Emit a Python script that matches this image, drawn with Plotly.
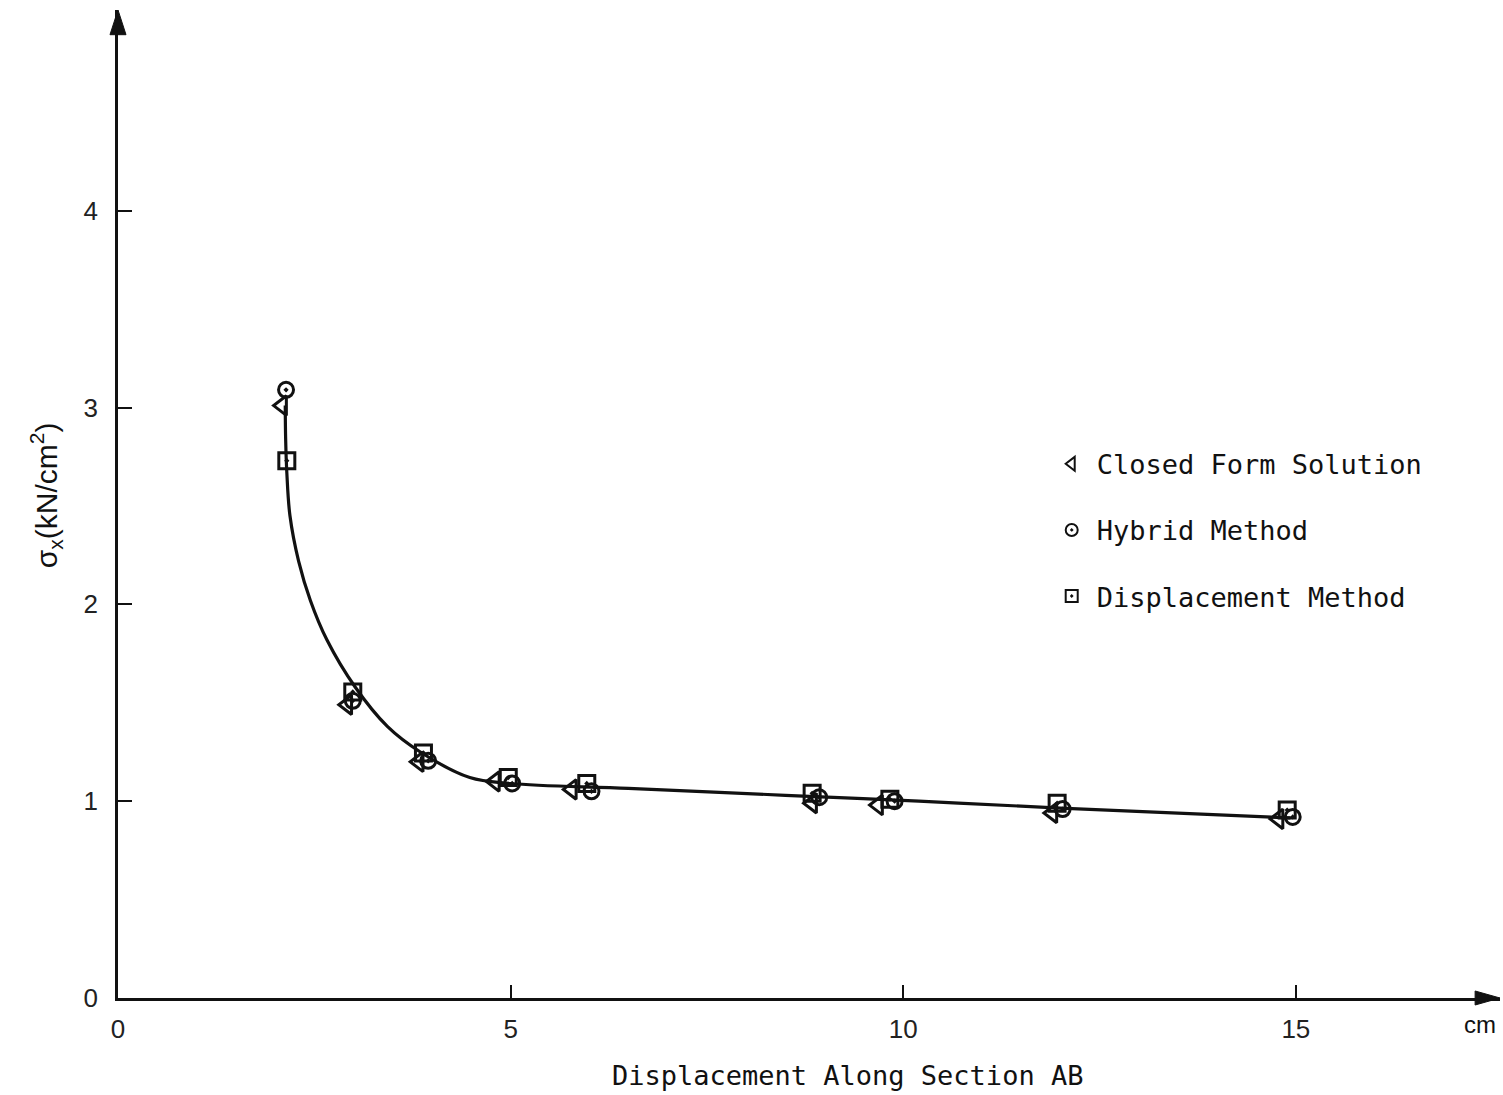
import plotly.graph_objects as go

# ---- data ----
closed_x = [2.09, 2.92, 3.83, 4.80, 5.78, 8.84, 9.68, 11.90, 14.78]
closed_y = [3.01, 1.49, 1.20, 1.10, 1.06, 0.99, 0.98, 0.94, 0.91]

hybrid_x = [2.14, 2.99, 3.95, 5.02, 6.03, 8.93, 9.89, 12.03, 14.96]
hybrid_y = [3.09, 1.51, 1.205, 1.09, 1.05, 1.02, 1.00, 0.96, 0.92]

disp_x = [2.15, 2.99, 3.89, 4.97, 5.97, 8.84, 9.83, 11.96, 14.89]
disp_y = [2.73, 1.555, 1.245, 1.12, 1.09, 1.04, 1.01, 0.99, 0.955]

curve_x = [2.13, 2.135, 2.15, 2.19, 2.30, 2.45, 2.66, 3.02, 3.43, 3.85, 4.48,
           5.00, 6.50, 8.50, 10.20, 12.00, 14.93]
curve_y = [3.01, 2.84, 2.67, 2.45, 2.22, 2.02, 1.82, 1.58, 1.38, 1.25, 1.12,
           1.09, 1.065, 1.03, 1.00, 0.965, 0.915]

x_ticks = [0, 5, 10, 15]
x_tick_text = ["0", "5", "10", "15"]
y_ticks = [0, 1, 2, 3, 4]
y_tick_text = ["0", "1", "2", "3", "4"]

INK = "#111111"
MONO = "DejaVu Sans Mono"
SANS = "Liberation Sans"

fig = go.Figure()

fig.add_trace(go.Scatter(
    x=curve_x, y=curve_y, mode="lines",
    line=dict(color=INK, width=3.2, shape="spline", smoothing=1.0),
    showlegend=False, hoverinfo="skip"))

fig.add_trace(go.Scatter(
    x=closed_x, y=closed_y, mode="markers", name="Closed Form Solution",
    legendgroup="a",
    marker=dict(symbol="triangle-left-open", size=17, color=INK,
                line=dict(color=INK, width=3))))
fig.add_trace(go.Scatter(
    x=hybrid_x, y=hybrid_y, mode="markers", name="Hybrid Method",
    legendgroup="b",
    marker=dict(symbol="circle-open-dot", size=15, color=INK,
                line=dict(color=INK, width=3))))
fig.add_trace(go.Scatter(
    x=disp_x, y=disp_y, mode="markers", name="Displacement Method",
    legendgroup="c",
    marker=dict(symbol="square-open-dot", size=16, color=INK,
                line=dict(color=INK, width=3))))

fig.update_layout(
    width=1503, height=1095,
    margin=dict(l=118, r=3, t=10, b=97),
    paper_bgcolor="white", plot_bgcolor="white",
    showlegend=True,
    legend=dict(x=0.672, y=0.565, xanchor="left", yanchor="top",
                font=dict(family=MONO, size=27, color=INK),
                tracegroupgap=28, bgcolor="rgba(0,0,0,0)",
                itemwidth=40, itemsizing="constant"),
    xaxis=dict(range=[0, 17.6], showgrid=False, zeroline=False,
               showline=True, linecolor=INK, linewidth=2.6,
               tickmode="array", tickvals=x_ticks, ticktext=x_tick_text,
               ticks="inside", ticklen=13, tickwidth=2, tickcolor=INK,
               ticklabelstandoff=6,
               tickfont=dict(family=SANS, size=26, color="#222222")),
    yaxis=dict(range=[0, 5.02], showgrid=False, zeroline=False,
               showline=True, linecolor=INK, linewidth=2.6,
               tickmode="array", tickvals=y_ticks, ticktext=y_tick_text,
               ticks="inside", ticklen=14, tickwidth=2, tickcolor=INK,
               ticklabelstandoff=12,
               tickfont=dict(family=SANS, size=26, color="#222222")),
)

# axis arrowheads (decorative shapes, paper coordinates so they are not clipped)
fig.add_shape(type="path", xref="paper", yref="paper",
              path="M -0.0058 0.975 L 0 1.0 L 0.0058 0.975 Z",
              fillcolor=INK, line=dict(color=INK, width=1))
fig.add_shape(type="path", xref="paper", yref="paper",
              path="M 0.982 0.0071 L 1.0 0 L 0.982 -0.0071 Z",
              fillcolor=INK, line=dict(color=INK, width=1))

# axis titles
fig.add_annotation(x=0.5275, y=-0.078, xref="paper", yref="paper",
                   text="Displacement Along Section AB", showarrow=False,
                   xanchor="center", yanchor="middle",
                   font=dict(family=MONO, size=27, color=INK))
fig.add_annotation(x=-0.052, y=0.509, xref="paper", yref="paper",
                   text="σ<sub>x</sub>(kN/cm<sup>2</sup>)", showarrow=False,
                   textangle=-90, xanchor="center", yanchor="middle",
                   font=dict(family=SANS, size=30, color=INK))
fig.add_annotation(x=0.9855, y=-0.027, xref="paper", yref="paper",
                   text="cm", showarrow=False, xanchor="center", yanchor="middle",
                   font=dict(family=SANS, size=24, color=INK))

fig.write_html("out.html")
